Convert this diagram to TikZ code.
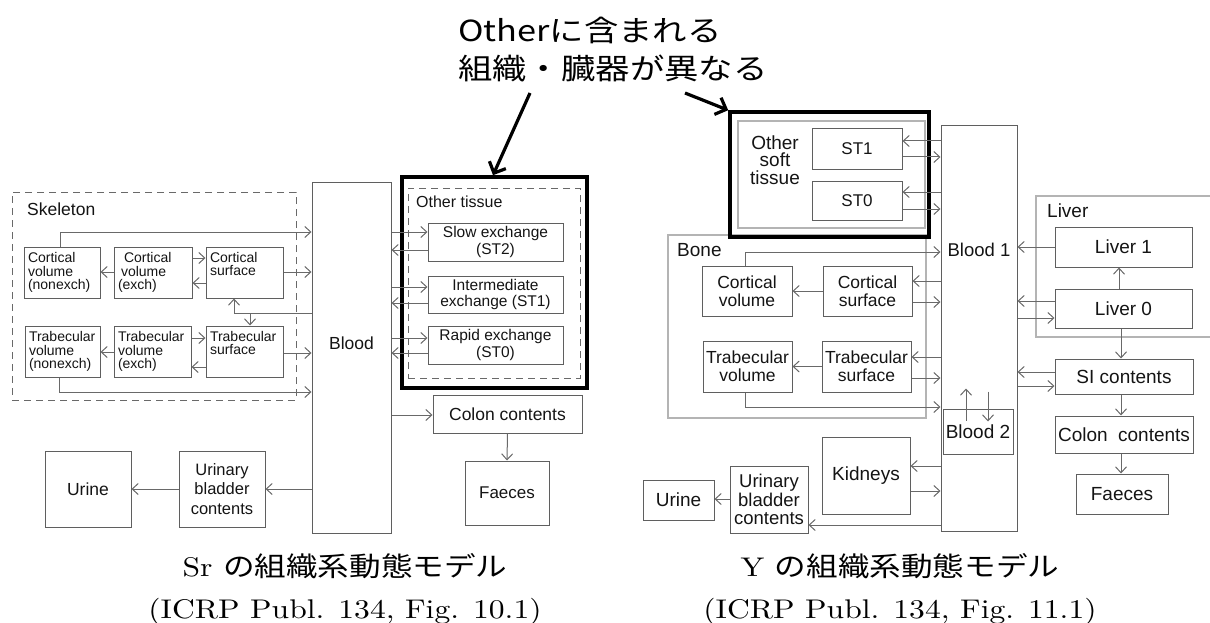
\documentclass[tikz,border=0pt]{standalone}
\usepackage{fontspec}
\usepackage{graphicx}
\usetikzlibrary{arrows.meta,calc}
\newfontfamily\arialf{Liberation Sans}
\newfontfamily\jpf{Noto Sans CJK JP}
\newfontfamily\capf{lmroman10-regular.otf}
\definecolor{lncol}{RGB}{105,105,105}
\definecolor{bxcol}{RGB}{95,95,95}
\definecolor{lgcol}{RGB}{180,180,180}
\definecolor{txcol}{RGB}{20,20,20}
\newcommand\fsz[2]{\fontsize{#1pt}{#2pt}\selectfont}
\newcommand\jtext[1]{{\jpf #1}}
\newcommand\wide[2]{\scalebox{#1}[1]{#2}}
\begin{document}
\begin{tikzpicture}[x=1pt,y=-1pt,
  box/.style={draw=bxcol, line width=1pt, inner sep=0pt, align=center, text=txcol, font=\arialf},
  lbox/.style={box, align=left, inner xsep=4pt},
  sk/.style={lbox, font=\arialf\fsz{14}{13.5}},
  stb/.style={box, font=\arialf\fsz{15.5}{16.5}, minimum width=135pt},
  rb/.style={box, font=\arialf\fsz{17.5}{18}},
  lvb/.style={box, font=\arialf\fsz{19}{20}, minimum width=137pt},
  grp/.style={draw=lgcol, line width=1.2pt, inner sep=0pt},
  dgrp/.style={draw=lncol, line width=1pt, dash pattern=on 7pt off 5pt, inner sep=0pt},
  embox/.style={draw=black, line width=3.6pt, inner sep=0pt},
  lab/.style={inner sep=0pt, text=txcol, font=\arialf},
  headtxt/.style={inner sep=0pt, text=black, anchor=base west, font=\jpf\fsz{29}{34}},
  captxt/.style={inner sep=0pt, text=black, anchor=base, font=\capf\fsz{27}{31}},
  arr/.style={draw=lncol, line width=1pt, -{Straight Barb[length=6pt,width=11pt]}},
  big/.style={draw=black, line width=3.2pt, -{Straight Barb[length=9pt,width=18pt]}},
]
\useasboundingbox (0,0) rectangle (1210,623);

% ---------------- heading ----------------
\node[headtxt] (head1) at (458,42) {\wide{1.185}{Otherに含まれる}};
\node[headtxt] (head2) at (458,80) {\wide{1.185}{組織・臓器が異なる}};

% ---------------- left diagram (Sr) ----------------
\node[dgrp, minimum width=284pt, minimum height=208pt] (skel) at (154,296) {};
\node[lab, anchor=west, font=\arialf\fsz{17.5}{20}] (skellab) at (27,209) {Skeleton};
\node[sk, text width=68pt, minimum height=51pt] (cvn) at (62,272.5) {Cortical\\volume\\(nonexch)};
\node[sk, text width=70pt, minimum height=51pt] (cve) at (153,272.5) {\hspace*{6pt}Cortical\\\hspace*{3pt}volume\\(exch)};
\node[sk, text width=69pt, minimum height=51pt] (cs) at (244.5,272.5) {Cortical\\surface\\\strut};
\node[sk, text width=67pt, minimum height=51pt] (tvn) at (62.5,351.5) {Trabecular\\volume\\(nonexch)};
\node[sk, text width=69pt, minimum height=51pt] (tve) at (152.5,351.5) {Trabecular\\volume\\(exch)};
\node[sk, text width=69pt, minimum height=51pt] (ts) at (244.5,351.5) {Trabecular\\surface\\\strut};

\node[box, minimum width=79pt, minimum height=351pt, font=\arialf\fsz{17.5}{20}] (blood) at (351.5,357.5) {\raisebox{29pt}{Blood}};

\node[embox, minimum width=185pt, minimum height=211pt] (oth) at (494.5,282.5) {};
\node[dgrp, minimum width=172pt, minimum height=190pt] (othd) at (494,283) {};
\node[lab, anchor=west, font=\arialf\fsz{16}{18}] (othlab) at (416,202) {Other tissue};
\node[stb, minimum height=38pt] (st2) at (495.5,242) {Slow exchange\\(ST2)};
\node[stb, minimum height=37pt] (st1) at (495.5,294.5) {Intermediate\\exchange (ST1)};
\node[stb, minimum height=38pt] (st0) at (495.5,345) {Rapid exchange\\(ST0)};

\node[box, font=\arialf\fsz{17.5}{20}, minimum width=149pt, minimum height=38pt] (colL) at (507.5,414) {Colon contents};
\node[box, font=\arialf\fsz{17}{20}, minimum width=84pt, minimum height=64pt] (faeL) at (507,493) {Faeces};
\node[box, font=\arialf\fsz{16.5}{19.5}, minimum width=86pt, minimum height=76pt] (ubcL) at (222,489) {Urinary\\bladder\\contents};
\node[box, font=\arialf\fsz{17.5}{20}, minimum width=86pt, minimum height=76pt] (urL) at (88,489) {Urine};

\draw[arr] (60,0 |- cvn.north) |- (0,232 -| blood.west);
\draw[arr] (0,258 -| cve.east) -- (0,258 -| cs.west);
\draw[arr] (0,283 -| cs.west) -- (0,283 -| cve.east);
\draw[arr] (0,272 -| cve.west) -- (0,272 -| cvn.east);
\draw[arr] (0,272 -| cs.east) -- (0,272 -| blood.west);
\draw[arr] (0,313 -| blood.west) -| (234,0 |- cs.south);
\coordinate (jL) at (250,313);
\draw[arr] (jL) -- (250,0 |- ts.north);
\draw[arr] (0,338 -| tve.east) -- (0,338 -| ts.west);
\draw[arr] (0,367 -| ts.west) -- (0,367 -| tve.east);
\draw[arr] (0,352 -| tve.west) -- (0,352 -| tvn.east);
\draw[arr] (0,353 -| ts.east) -- (0,353 -| blood.west);
\draw[arr] (59,0 |- tvn.south) |- (0,392 -| blood.west);
\draw[arr] (0,232 -| blood.east) -- (0,232 -| st2.west);
\draw[arr] (0,250 -| st2.west) -- (0,250 -| blood.east);
\draw[arr] (0,287 -| blood.east) -- (0,287 -| st1.west);
\draw[arr] (0,303 -| st1.west) -- (0,303 -| blood.east);
\draw[arr] (0,338 -| blood.east) -- (0,338 -| st0.west);
\draw[arr] (0,353 -| st0.west) -- (0,353 -| blood.east);
\draw[arr] (0,415 -| blood.east) -- (0,415 -| colL.west);
\draw[arr] (colL.south) -- (faeL.north);
\draw[arr] (0,489 -| blood.west) -- (ubcL.east);
\draw[arr] (ubcL.west) -- (urL.east);

% ---------------- right diagram (Y) ----------------
\node[grp, minimum width=258pt, minimum height=183pt] (bone) at (797,326.5) {};
\node[lab, anchor=west, font=\arialf\fsz{19}{20}] (bonelab) at (677,250) {Bone};
\draw[grp] (1215,196) -- (1036,196) -- (1036,337) -- (1215,337);
\node[lab, anchor=west, font=\arialf\fsz{19}{20}] (liverlab) at (1047,211) {Liver};

\node[embox, minimum width=199pt, minimum height=125pt] (osR) at (829.5,174.5) {};
\node[grp, minimum width=187pt, minimum height=107pt] (osRi) at (831.5,174.5) {};
\node[lab, align=center, font=\arialf\fsz{19}{17.5}] (oslab) at (775,160) {Other\\soft\\tissue};
\node[box, font=\arialf\fsz{17}{20}, minimum width=90pt, minimum height=40pt] (st1R) at (857,149) {ST1};
\node[box, font=\arialf\fsz{17}{20}, minimum width=90pt, minimum height=39pt] (st0R) at (857,200.5) {ST0};

\node[box, font=\arialf\fsz{18.5}{20}, minimum width=76pt, minimum height=405pt] (b1) at (979,328.5) {\raisebox{157pt}{Blood 1}};

\node[rb, minimum width=90pt, minimum height=50pt] (cvR) at (747,291) {Cortical\\volume};
\node[rb, minimum width=89pt, minimum height=50pt] (csR) at (867.5,291) {Cortical\\surface};
\node[rb, minimum width=89pt, minimum height=51pt] (tvR) at (747.5,366.5) {Trabecular\\volume};
\node[rb, minimum width=89pt, minimum height=51pt] (tsR) at (866.5,366.5) {Trabecular\\surface};
\node[box, font=\arialf\fsz{19}{20}, minimum width=70pt, minimum height=45pt] (b2) at (978,431.5) {Blood 2};
\node[box, font=\arialf\fsz{19}{20}, minimum width=88pt, minimum height=77pt] (kid) at (866,475.5) {Kidneys};
\node[box, font=\arialf\fsz{18.5}{18.5}, minimum width=78pt, minimum height=67pt] (ubcR) at (769,499.5) {Urinary\\bladder\\contents};
\node[box, font=\arialf\fsz{19}{20}, minimum width=71pt, minimum height=40pt] (urR) at (678.5,500) {Urine};

\node[lvb, minimum height=40pt] (l1) at (1123.5,247) {Liver 1};
\node[lvb, minimum height=39pt] (l0) at (1123.5,308.5) {Liver 0};
\node[lvb, minimum width=138pt, minimum height=35pt] (si) at (1124,376.5) {SI contents};
\node[lvb, minimum width=138pt, minimum height=37pt] (colR) at (1124,434.5) {Colon\hspace{0.55em}contents};
\node[box, font=\arialf\fsz{19}{20}, minimum width=92pt, minimum height=40pt] (faeR) at (1122,494) {Faeces};

\draw[arr] (0,141 -| b1.west) -- (0,141 -| st1R.east);
\draw[arr] (0,157 -| st1R.east) -- (0,157 -| b1.west);
\draw[arr] (0,192 -| b1.west) -- (0,192 -| st0R.east);
\draw[arr] (0,209 -| st0R.east) -- (0,209 -| b1.west);
\draw[arr] (745,0 |- cvR.north) |- (0,252 -| b1.west);
\draw[arr] (csR.west) -- (cvR.east);
\draw[arr] (0,281 -| b1.west) -- (0,281 -| csR.east);
\draw[arr] (0,302 -| csR.east) -- (0,302 -| b1.west);
\draw[arr] (tsR.west) -- (tvR.east);
\draw[arr] (0,357 -| b1.west) -- (0,357 -| tsR.east);
\draw[arr] (0,378 -| tsR.east) -- (0,378 -| b1.west);
\draw[arr] (745,0 |- tvR.south) |- (0,407 -| b1.west);
\draw[arr] ($(b2.north)+(-12,12)$) -- ++(0,-32);
\draw[arr] ($(b2.north)+(10,-17)$) -- ++(0,30);
\draw[arr] (0,466 -| b1.west) -- (0,466 -| kid.east);
\draw[arr] (0,491 -| kid.east) -- (0,491 -| b1.west);
\draw[arr] (0,525 -| b1.west) -- (0,525 -| ubcR.east);
\draw[arr] (0,499 -| ubcR.west) -- (0,499 -| urR.east);
\draw[arr] (l1.west) -- (0,247 -| b1.east);
\draw[arr] (1119,0 |- l0.north) -- (1119,0 |- l1.south);
\draw[arr] (0,301 -| l0.west) -- (0,301 -| b1.east);
\draw[arr] (0,318 -| b1.east) -- (0,318 -| l0.west);
\draw[arr] (1121,0 |- l0.south) -- (1121,0 |- si.north);
\draw[arr] (0,372 -| si.west) -- (0,372 -| b1.east);
\draw[arr] (0,386 -| b1.east) -- (0,386 -| si.west);
\draw[arr] (1121,0 |- si.south) -- (1121,0 |- colR.north);
\draw[arr] (1121,0 |- colR.south) -- (1121,0 |- faeR.north);

% ---------------- pointer arrows ----------------
\coordinate (hL) at (530,93);
\coordinate (hR) at (685,93);
\draw[big] (hL) -- (493,0 |- oth.north);
\draw[big] (hR) -- (osR.north west);

% ---------------- captions ----------------
\node[captxt] (capL1) at (345,576) {\wide{1.17}{Sr \jtext{の組織系動態モデル}}};
\node[captxt] (capL2) at (345,618) {\wide{1.17}{(ICRP Publ. 134, Fig. 10.1)}};
\node[captxt] (capR1) at (900,576) {\wide{1.17}{Y \jtext{の組織系動態モデル}}};
\node[captxt] (capR2) at (900,618) {\wide{1.17}{(ICRP Publ. 134, Fig. 11.1)}};
\end{tikzpicture}
\end{document}
